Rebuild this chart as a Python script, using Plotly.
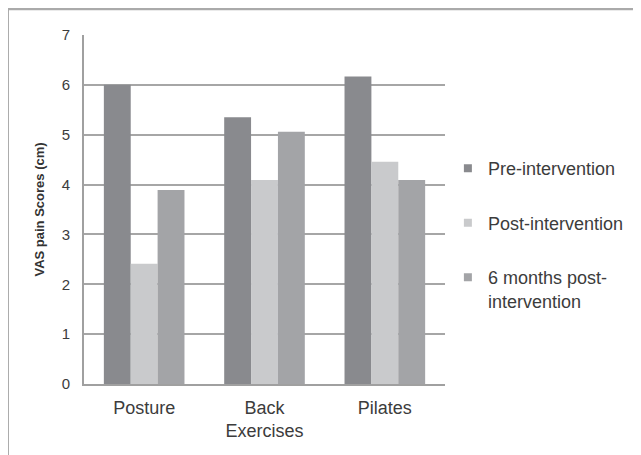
import plotly.graph_objects as go

categories = ["Posture", "Back<br>Exercises", "Pilates"]
series_names = ["Pre-intervention", "Post-intervention", "6 months post-<br>intervention"]
pre = [6.0, 5.35, 6.17]
post = [2.41, 4.09, 4.46]
six_months = [3.89, 5.06, 4.09]
y_ticks = [0, 1, 2, 3, 4, 5, 6, 7]

colors = ["#898a8e", "#c9cacc", "#a3a4a7"]
values = [pre, post, six_months]

fig = go.Figure()
for i, (name, vals) in enumerate(zip(series_names, values)):
    fig.add_trace(go.Bar(x=categories, y=vals, name=name, marker_color=colors[i],
                         marker_line_width=0, legendgroup=f"g{i}", showlegend=False))
    # legend entry with a small square marker
    fig.add_trace(go.Scatter(x=[None], y=[None], mode="markers", name=name,
                             marker=dict(symbol="square", size=8, color=colors[i]),
                             legendgroup=f"g{i}", showlegend=True))

FONT = "Liberation Sans, Arial, sans-serif"
TXT = "#3c3c3c"
fig.update_layout(
    width=641, height=455,
    margin=dict(l=76, r=204, t=27, b=79),
    paper_bgcolor="white", plot_bgcolor="white",
    barmode="group", bargap=0.33, bargroupgap=0,
    font=dict(family=FONT, color=TXT, size=18),
    showlegend=True,
    legend=dict(x=1.008, xanchor="left", y=0.67, yanchor="top",
                font=dict(size=18, color=TXT), tracegroupgap=28,
                itemwidth=30, valign="top", bgcolor="rgba(0,0,0,0)"),
    xaxis=dict(showgrid=False, showline=True, linecolor="#a0a0a0", linewidth=2,
               tickfont=dict(size=18, color=TXT),
               ticks="outside", ticklen=6, tickcolor="rgba(0,0,0,0)"),
    yaxis=dict(range=[0, 7], tickvals=y_ticks, showgrid=True, gridcolor="#a6a6a6", gridwidth=2,
               showline=True, linecolor="#a0a0a0", linewidth=2, zeroline=False,
               ticks="outside", ticklen=9, tickcolor="rgba(0,0,0,0)",
               tickfont=dict(size=15, color=TXT),
               title=dict(text="<b>VAS pain Scores (cm)</b>", font=dict(size=13, color="#333333"), standoff=14)),
    shapes=[dict(type="rect", xref="paper", yref="paper", x0=-0.212, x1=1.7, y0=-0.4, y1=1.075,
                 line=dict(color="#aaaaaa", width=3), fillcolor="rgba(0,0,0,0)", layer="below")],
)
fig.write_html("out.html")
